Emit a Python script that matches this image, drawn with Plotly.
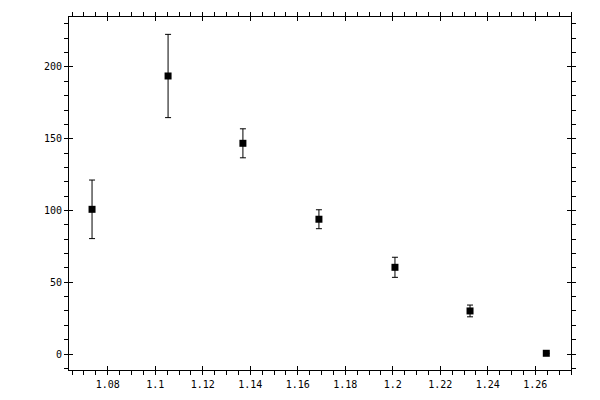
import plotly.graph_objects as go

# measured points with symmetric errors
x_vals = [1.0734, 1.1054, 1.1369, 1.1689, 1.2009, 1.2325, 1.2646]
y_vals = [100.8, 193.7, 146.8, 93.9, 60.4, 30.0, 0.5]
y_err = [20.4, 29.0, 10.1, 6.6, 7.0, 4.1, 0.0]

x_range = [1.0637, 1.2750]
y_range = [-11.15, 234.8]

fig = go.Figure()
fig.add_trace(go.Scatter(
    x=x_vals, y=y_vals,
    mode='markers',
    marker=dict(symbol='square', size=7, color='black'),
    error_y=dict(type='data', array=y_err, visible=True, color='black', thickness=1, width=3),
    hoverinfo='skip',
))
# dummy trace so the overlay axes get drawn
fig.add_trace(go.Scatter(x=[None], y=[None], xaxis='x2', yaxis='y2', showlegend=False))

font = dict(family='DejaVu Sans Mono', size=10, color='black')
common = dict(showline=True, linecolor='black', linewidth=1, mirror='allticks', automargin=False,
              showgrid=False, zeroline=False, tickcolor='black', tickwidth=1)

# page body adds an 8px offset, margins compensate for it
fig.update_layout(
    width=600, height=400,
    margin=dict(l=61, r=37, t=9, b=38, autoexpand=False),
    paper_bgcolor='white', plot_bgcolor='white',
    showlegend=False,
    font=font,
    xaxis=dict(range=x_range, tick0=1.08, dtick=0.02, ticks='outside', ticklen=4,
               minor=dict(dtick=0.005, ticks='outside', ticklen=4, tickcolor='black'),
               tickfont=font, ticklabelstandoff=1, **common),
    yaxis=dict(range=y_range, tick0=0, dtick=50, ticks='outside', ticklen=4,
               minor=dict(dtick=10, ticks='outside', ticklen=4, tickcolor='black'),
               tickfont=font, ticklabelstandoff=0, **common),
    xaxis2=dict(range=x_range, overlaying='x', tick0=1.08, dtick=0.02, ticks='inside', ticklen=4,
                showticklabels=False, **common),
    yaxis2=dict(range=y_range, overlaying='y', tick0=0, dtick=50, ticks='inside', ticklen=4,
                showticklabels=False, **common),
)

fig.write_html("out.html")
